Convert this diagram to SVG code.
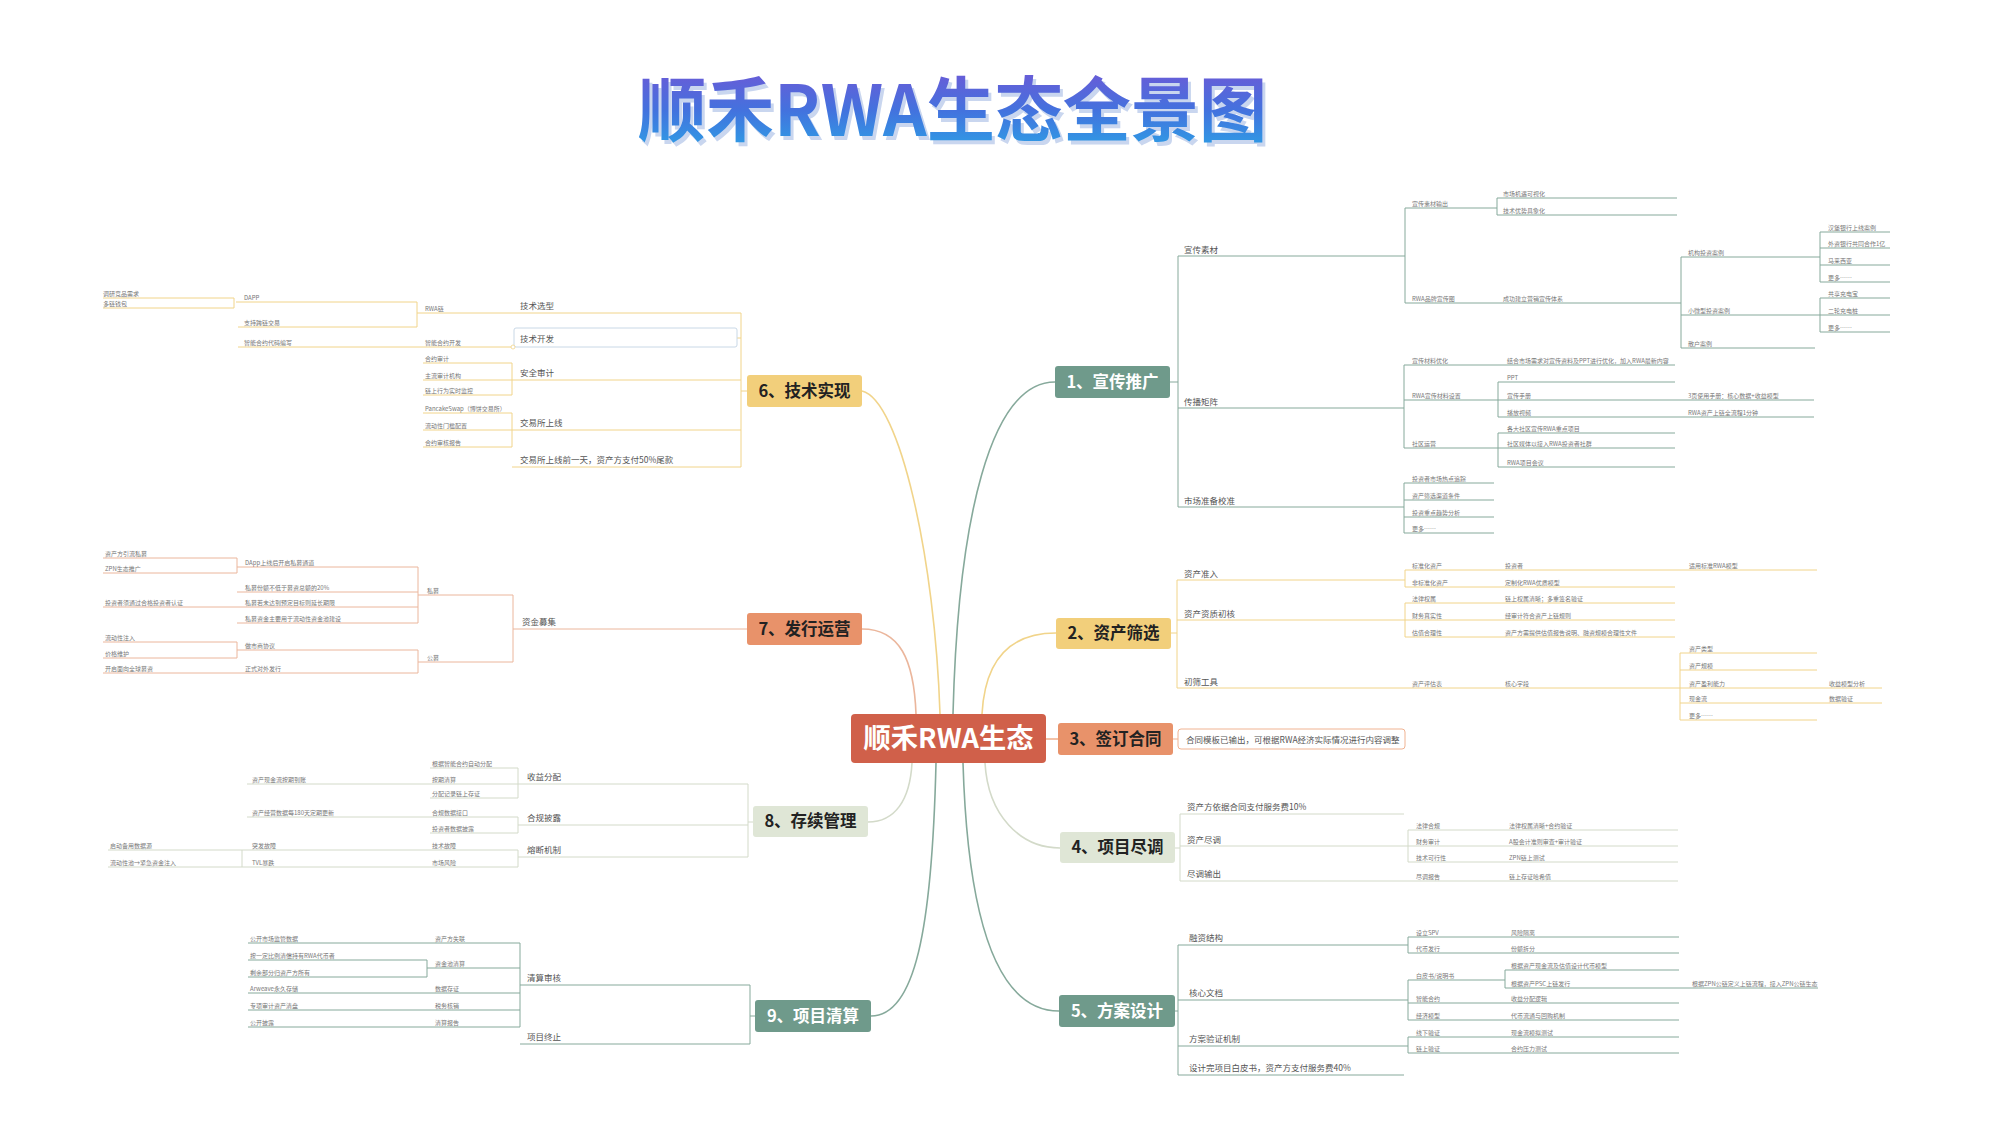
<svg xmlns="http://www.w3.org/2000/svg" width="2000" height="1125" viewBox="0 0 2000 1125">
<defs>
<linearGradient id="tg" x1="0" y1="0" x2="0" y2="1">
<stop offset="0" stop-color="#7a52d4"/>
<stop offset="0.55" stop-color="#4372de"/>
<stop offset="1" stop-color="#2aa6e6"/>
</linearGradient>
<style>
text{font-family:"Noto Sans CJK SC","Noto Sans",sans-serif}
.l1{font-size:8.5px;fill:#555}
.s{font-size:6px;fill:#777}
.nt{font-size:16.5px;font-weight:700;text-anchor:middle;fill:#222}
.nw{fill:#fff}
.c1,.c2,.c3,.c4,.c7{fill:none;stroke-width:1}
.c1{stroke:#86a99b}
.c2{stroke:#f1d48a}
.c3{stroke:#f0b392}
.c4{stroke:#d3dac9}
.c7{stroke:#ebb69c}
.cv{stroke-width:1.6}
.teal{fill:#6f9a8b}
.yel{fill:#f2cf7b}
.org{fill:#e8926a}
.lgt{fill:#dfe6d6}
</style>
</defs>
<rect width="2000" height="1125" fill="#fff"/>

<g id="title">
<text x="641" y="140" font-size="70" font-weight="700" fill="#c9d6ef" textLength="629" lengthAdjust="spacingAndGlyphs">顺禾RWA生态全景图</text>
<text x="638" y="136" font-size="70" font-weight="700" fill="url(#tg)" textLength="629" lengthAdjust="spacingAndGlyphs">顺禾RWA生态全景图</text>
</g>

<g id="connectors">
<path class="c1 cv" d="M953,714 C958,520 990,382 1055,382"/>
<path class="c2 cv" d="M940,714 C935,560 900,400 862,391"/>
<path class="c7 cv" d="M916,714 C914,660 900,629 862,629"/>
<path class="c2 cv" d="M982,714 C985,660 1010,633 1056,633"/>
<path class="c3 cv" d="M1046,739 H1058"/>
<path class="c4 cv" d="M912,763 C910,800 895,822 868,822"/>
<path class="c1 cv" d="M936,763 C932,930 915,1016 871,1016"/>
<path class="c1 cv" d="M963,763 C968,930 1000,1011 1059,1011"/>
<path class="c4 cv" d="M985,763 C988,815 1020,848 1060,848"/>

<path class="c1" d="M1170,382 H1178 M1178,256 V507 M1178,256 H1405 M1178,408 H1404 M1178,507 H1404
M1405,208 V303 M1405,208 H1497 M1497,198 V215 M1497,198 H1677 M1497,215 H1677
M1405,303 H1681 M1681,257 V348 M1681,257 H1820 M1681,315 H1820 M1681,348 H1815
M1820,232 V282 M1820,232 H1890 M1820,248 H1890 M1820,265 H1890 M1820,282 H1890
M1820,298 V332 M1820,298 H1890 M1820,315 H1890 M1820,332 H1890
M1404,365 V448 M1404,365 H1675
M1404,400 H1498 M1498,382 V417 M1498,382 H1675 M1498,400 H1814 M1498,417 H1814
M1404,448 H1498 M1498,433 V467 M1498,433 H1675 M1498,448 H1675 M1498,467 H1675
M1404,483 V533 M1404,483 H1494 M1404,500 H1494 M1404,517 H1494 M1404,533 H1494"/>

<path class="c2" d="M1171,633 H1177 M1177,580 V688 M1177,580 H1405 M1177,620 H1405 M1177,688 H1680
M1405,570 V587 M1405,570 H1817 M1405,587 H1675
M1405,603 V637 M1405,603 H1675 M1405,620 H1675 M1405,637 H1675
M1680,653 V720 M1680,653 H1817 M1680,670 H1817 M1680,688 H1882 M1680,703 H1882 M1680,720 H1817"/>

<path class="c3" d="M1173,739 H1178"/>
<rect class="c3" x="1178" y="729" width="227" height="20" rx="3"/>

<path class="c4" d="M1175,848 H1180 M1180,814 V881 M1180,814 H1404 M1180,846 H1408 M1180,881 H1678
M1408,830 V862 M1408,830 H1678 M1408,846 H1678 M1408,862 H1678"/>

<path class="c1" d="M1175,1011 H1178 M1178,945 V1075 M1178,945 H1408 M1178,1000 H1408 M1178,1046 H1408 M1178,1075 H1404
M1408,937 V953 M1408,937 H1679 M1408,953 H1679
M1408,980 V1020 M1408,980 H1505 M1505,970 V988 M1505,970 H1679 M1505,988 H1818 M1408,1003 H1679 M1408,1020 H1679
M1408,1037 V1053 M1408,1037 H1679 M1408,1053 H1679"/>

<path class="c2" d="M747,391 H741 M741,313 V467 M741,313 H417
M417,302 V327 M417,302 H236 M417,327 H238
M234,298 V308 M234,298 H103 M234,308 H103
M737,338 H741 M514,347 H238
M741,380 H512 M512,363 V395 M512,363 H423 M512,380 H423 M512,395 H423
M741,430 H512 M512,413 V447 M512,413 H423 M512,430 H423 M512,447 H423
M741,467 H512"/>
<rect x="514" y="328" width="223" height="19" rx="2" fill="#fff" stroke="#c9d8e6" stroke-width="1"/>
<circle cx="513" cy="347" r="2" fill="#fff" stroke="#f1d48a" stroke-width="0.8"/>

<path class="c7" d="M747,629 H513 M513,595 V662 M513,595 H418 M513,662 H418
M418,567 V623 M418,567 H237 M418,592 H237 M418,607 H103 M418,623 H237
M237,558 V573 M237,558 H103 M237,573 H103
M418,650 V673 M418,650 H237 M418,673 H103
M237,642 V658 M237,642 H103 M237,658 H103"/>

<path class="c4" d="M753,822 H748 M748,784 V857 M748,784 H247
M518,768 V798 M518,768 H430 M518,798 H430
M748,825 H518 M518,817 V833 M518,817 H247 M518,833 H430
M748,857 H518 M518,850 V867 M518,850 H108 M518,867 H108 M242,850 V867"/>

<path class="c1" d="M755,1016 H750 M750,985 V1044 M750,985 H520 M750,1044 H520
M520,943 V1027 M520,943 H248 M520,968 H427 M520,993 H248 M520,1010 H248 M520,1027 H248
M427,960 V977 M427,960 H248 M427,977 H248"/>
</g>

<g id="center">
<rect x="851" y="714" width="195" height="49" rx="4" fill="#d0604a"/>
<text x="948.5" y="748" font-size="27" font-weight="700" fill="#fff" text-anchor="middle" textLength="170" lengthAdjust="spacingAndGlyphs">顺禾RWA生态</text>
</g>

<g id="node1"><rect class="teal" x="1055" y="366" width="115" height="32" rx="3"/><text class="nt nw" x="1112.5" y="388">1、宣传推广</text></g>
<g id="node2"><rect class="yel" x="1056" y="618" width="115" height="31" rx="3"/><text class="nt" x="1113.5" y="639">2、资产筛选</text></g>
<g id="node3"><rect class="org" x="1058" y="723" width="115" height="32" rx="3"/><text class="nt" x="1115.5" y="745">3、签订合同</text></g>
<g id="node4"><rect class="lgt" x="1060" y="832" width="115" height="31" rx="3"/><text class="nt" x="1117.5" y="853">4、项目尽调</text></g>
<g id="node5"><rect class="teal" x="1059" y="995" width="116" height="32" rx="3"/><text class="nt nw" x="1117" y="1017">5、方案设计</text></g>
<g id="node6"><rect class="yel" x="747" y="375" width="115" height="32" rx="3"/><text class="nt" x="804.5" y="397">6、技术实现</text></g>
<g id="node7"><rect class="org" x="747" y="613" width="115" height="32" rx="3"/><text class="nt" x="804.5" y="635">7、发行运营</text></g>
<g id="node8"><rect class="lgt" x="753" y="806" width="115" height="31" rx="3"/><text class="nt" x="810.5" y="827">8、存续管理</text></g>
<g id="node9"><rect class="teal" x="755" y="1000" width="116" height="32" rx="3"/><text class="nt nw" x="813" y="1022">9、项目清算</text></g>

<g id="b1">
<g id="b1-1"><text class="l1" x="1184" y="253">宣传素材</text></g>
<g id="b1-2"><text class="l1" x="1184" y="405">传播矩阵</text></g>
<g id="b1-3"><text class="l1" x="1184" y="504">市场准备校准</text></g>
<g id="b1-4"><text class="s" x="1412" y="205.5">宣传素材输出</text></g>
<g id="b1-5"><text class="s" x="1503" y="195.5">市场机遇可视化</text></g>
<g id="b1-6"><text class="s" x="1503" y="212.5">技术优势具象化</text></g>
<g id="b1-7"><text class="s" x="1412" y="300.5">RWA品牌宣传图</text></g>
<g id="b1-8"><text class="s" x="1503" y="300.5">成功建立营销宣传体系</text></g>
<g id="b1-9"><text class="s" x="1688" y="254.5">机构投资案例</text></g>
<g id="b1-10"><text class="s" x="1828" y="229.5">汉堡银行上线案例</text></g>
<g id="b1-11"><text class="s" x="1828" y="245.5">外资银行共同合作1亿</text></g>
<g id="b1-12"><text class="s" x="1828" y="262.5">马来西亚</text></g>
<g id="b1-13"><text class="s" x="1828" y="279.5">更多……</text></g>
<g id="b1-14"><text class="s" x="1688" y="312.5">小微型投资案例</text></g>
<g id="b1-15"><text class="s" x="1828" y="295.5">共享充电宝</text></g>
<g id="b1-16"><text class="s" x="1828" y="312.5">二轮充电桩</text></g>
<g id="b1-17"><text class="s" x="1828" y="329.5">更多……</text></g>
<g id="b1-18"><text class="s" x="1688" y="345.5">散户案例</text></g>
<g id="b1-19"><text class="s" x="1412" y="362.5">宣传材料优化</text></g>
<g id="b1-20"><text class="s" x="1507" y="362.5">结合市场需求对宣传资料及PPT进行优化，加入RWA最新内容</text></g>
<g id="b1-21"><text class="s" x="1412" y="397.5">RWA宣传材料设置</text></g>
<g id="b1-22"><text class="s" x="1507" y="379.5">PPT</text></g>
<g id="b1-23"><text class="s" x="1507" y="397.5">宣传手册</text></g>
<g id="b1-24"><text class="s" x="1688" y="397.5">3页使用手册：核心数据+收益模型</text></g>
<g id="b1-25"><text class="s" x="1507" y="414.5">播放视频</text></g>
<g id="b1-26"><text class="s" x="1688" y="414.5">RWA资产上链全流程1分钟</text></g>
<g id="b1-27"><text class="s" x="1412" y="445.5">社区运营</text></g>
<g id="b1-28"><text class="s" x="1507" y="430.5">各大社区宣传RWA重点项目</text></g>
<g id="b1-29"><text class="s" x="1507" y="445.5">社区媒体以接入RWA投资者社群</text></g>
<g id="b1-30"><text class="s" x="1507" y="464.5">RWA项目会议</text></g>
<g id="b1-31"><text class="s" x="1412" y="480.5">投资者市场热点追踪</text></g>
<g id="b1-32"><text class="s" x="1412" y="497.5">资产筛选渠道条件</text></g>
<g id="b1-33"><text class="s" x="1412" y="514.5">投资重点趋势分析</text></g>
<g id="b1-34"><text class="s" x="1412" y="530.5">更多……</text></g>
</g>

<g id="b2">
<g id="b2-1"><text class="l1" x="1184" y="577">资产准入</text></g>
<g id="b2-2"><text class="l1" x="1184" y="617">资产资质初核</text></g>
<g id="b2-3"><text class="l1" x="1184" y="685">初筛工具</text></g>
<g id="b2-4"><text class="s" x="1412" y="567.5">标准化资产</text></g>
<g id="b2-5"><text class="s" x="1505" y="567.5">投资者</text></g>
<g id="b2-6"><text class="s" x="1689" y="567.5">适用标准RWA模型</text></g>
<g id="b2-7"><text class="s" x="1412" y="584.5">非标准化资产</text></g>
<g id="b2-8"><text class="s" x="1505" y="584.5">定制化RWA优质模型</text></g>
<g id="b2-9"><text class="s" x="1412" y="600.5">法律权属</text></g>
<g id="b2-10"><text class="s" x="1505" y="600.5">链上权属清晰；多重签名验证</text></g>
<g id="b2-11"><text class="s" x="1412" y="617.5">财务真实性</text></g>
<g id="b2-12"><text class="s" x="1505" y="617.5">经审计符合资产上链规则</text></g>
<g id="b2-13"><text class="s" x="1412" y="634.5">估值合理性</text></g>
<g id="b2-14"><text class="s" x="1505" y="634.5">资产方需提供估值报告说明、融资规模合理性文件</text></g>
<g id="b2-15"><text class="s" x="1412" y="685.5">资产评估表</text></g>
<g id="b2-16"><text class="s" x="1505" y="685.5">核心字段</text></g>
<g id="b2-17"><text class="s" x="1689" y="650.5">资产类型</text></g>
<g id="b2-18"><text class="s" x="1689" y="667.5">资产规模</text></g>
<g id="b2-19"><text class="s" x="1689" y="685.5">资产盈利能力</text></g>
<g id="b2-20"><text class="s" x="1829" y="685.5">收益模型分析</text></g>
<g id="b2-21"><text class="s" x="1689" y="700.5">现金流</text></g>
<g id="b2-22"><text class="s" x="1829" y="700.5">数据验证</text></g>
<g id="b2-23"><text class="s" x="1689" y="717.5">更多……</text></g>
</g>

<g id="b3">
<g id="b3-1"><text class="l1" x="1186" y="742.5">合同模板已输出，可根据RWA经济实际情况进行内容调整</text></g>
</g>

<g id="b4">
<g id="b4-1"><text class="l1" x="1187" y="810">资产方依据合同支付服务费10%</text></g>
<g id="b4-2"><text class="l1" x="1187" y="843">资产尽调</text></g>
<g id="b4-3"><text class="l1" x="1187" y="877">尽调输出</text></g>
<g id="b4-4"><text class="s" x="1416" y="827.5">法律合规</text></g>
<g id="b4-5"><text class="s" x="1509" y="827.5">法律权属清晰+合约验证</text></g>
<g id="b4-6"><text class="s" x="1416" y="843.5">财务审计</text></g>
<g id="b4-7"><text class="s" x="1509" y="843.5">A股会计准则审查+审计验证</text></g>
<g id="b4-8"><text class="s" x="1416" y="859.5">技术可行性</text></g>
<g id="b4-9"><text class="s" x="1509" y="859.5">ZPN链上测试</text></g>
<g id="b4-10"><text class="s" x="1416" y="878.5">尽调报告</text></g>
<g id="b4-11"><text class="s" x="1509" y="878.5">链上存证哈希值</text></g>
</g>

<g id="b5">
<g id="b5-1"><text class="l1" x="1189" y="941">融资结构</text></g>
<g id="b5-2"><text class="l1" x="1189" y="996">核心文档</text></g>
<g id="b5-3"><text class="l1" x="1189" y="1042">方案验证机制</text></g>
<g id="b5-4"><text class="l1" x="1189" y="1071">设计完项目白皮书，资产方支付服务费40%</text></g>
<g id="b5-5"><text class="s" x="1416" y="934.5">设立SPV</text></g>
<g id="b5-6"><text class="s" x="1511" y="934.5">风险隔离</text></g>
<g id="b5-7"><text class="s" x="1416" y="950.5">代币发行</text></g>
<g id="b5-8"><text class="s" x="1511" y="950.5">份额拆分</text></g>
<g id="b5-9"><text class="s" x="1416" y="977.5">白皮书/说明书</text></g>
<g id="b5-10"><text class="s" x="1511" y="967.5">根据资产现金流及估值设计代币模型</text></g>
<g id="b5-11"><text class="s" x="1511" y="985.5">根据资产PSC上链发行</text></g>
<g id="b5-12"><text class="s" x="1692" y="985.5">根据ZPN公链定义上链流程，接入ZPN公链生态</text></g>
<g id="b5-13"><text class="s" x="1416" y="1000.5">智能合约</text></g>
<g id="b5-14"><text class="s" x="1511" y="1000.5">收益分配逻辑</text></g>
<g id="b5-15"><text class="s" x="1416" y="1017.5">经济模型</text></g>
<g id="b5-16"><text class="s" x="1511" y="1017.5">代币流通与回购机制</text></g>
<g id="b5-17"><text class="s" x="1416" y="1034.5">线下验证</text></g>
<g id="b5-18"><text class="s" x="1511" y="1034.5">现金流模拟测试</text></g>
<g id="b5-19"><text class="s" x="1416" y="1050.5">链上验证</text></g>
<g id="b5-20"><text class="s" x="1511" y="1050.5">合约压力测试</text></g>
</g>

<g id="b6">
<g id="b6-1"><text class="l1" x="520" y="309">技术选型</text></g>
<g id="b6-2"><text class="l1" x="520" y="342">技术开发</text></g>
<g id="b6-3"><text class="l1" x="520" y="376">安全审计</text></g>
<g id="b6-4"><text class="l1" x="520" y="426">交易所上线</text></g>
<g id="b6-5"><text class="l1" x="520" y="463">交易所上线前一天，资产方支付50%尾款</text></g>
<g id="b6-6"><text class="s" x="425" y="310.5">RWA链</text></g>
<g id="b6-7"><text class="s" x="244" y="299.5">DAPP</text></g>
<g id="b6-8"><text class="s" x="103" y="295.5">调研竞品需求</text></g>
<g id="b6-9"><text class="s" x="103" y="305.5">多链钱包</text></g>
<g id="b6-10"><text class="s" x="244" y="324.5">支持跨链交易</text></g>
<g id="b6-11"><text class="s" x="425" y="344.5">智能合约开发</text></g>
<g id="b6-12"><text class="s" x="244" y="344.5">智能合约代码编写</text></g>
<g id="b6-13"><text class="s" x="425" y="360.5">合约审计</text></g>
<g id="b6-14"><text class="s" x="425" y="377.5">主流审计机构</text></g>
<g id="b6-15"><text class="s" x="425" y="392.5">链上行为实时监控</text></g>
<g id="b6-16"><text class="s" x="425" y="410.5">PancakeSwap（博饼交易所）</text></g>
<g id="b6-17"><text class="s" x="425" y="427.5">流动性门槛配置</text></g>
<g id="b6-18"><text class="s" x="425" y="444.5">合约审核报告</text></g>
</g>

<g id="b7">
<g id="b7-1"><text class="l1" x="522" y="625">资金募集</text></g>
<g id="b7-2"><text class="s" x="427" y="592.5">私募</text></g>
<g id="b7-3"><text class="s" x="427" y="659.5">公募</text></g>
<g id="b7-4"><text class="s" x="245" y="564.5">DApp上线后开启私募通道</text></g>
<g id="b7-5"><text class="s" x="245" y="589.5">私募份额不低于募资总额的20%</text></g>
<g id="b7-6"><text class="s" x="245" y="604.5">私募若未达到预定目标则延长期限</text></g>
<g id="b7-7"><text class="s" x="105" y="604.5">投资者须通过合格投资者认证</text></g>
<g id="b7-8"><text class="s" x="245" y="620.5">私募资金主要用于流动性资金池建设</text></g>
<g id="b7-9"><text class="s" x="105" y="555.5">资产方引流私募</text></g>
<g id="b7-10"><text class="s" x="105" y="570.5">ZPN生态推广</text></g>
<g id="b7-11"><text class="s" x="245" y="647.5">做市商协议</text></g>
<g id="b7-12"><text class="s" x="105" y="639.5">流动性注入</text></g>
<g id="b7-13"><text class="s" x="105" y="655.5">价格维护</text></g>
<g id="b7-14"><text class="s" x="245" y="670.5">正式对外发行</text></g>
<g id="b7-15"><text class="s" x="105" y="670.5">开启面向全球募资</text></g>
</g>

<g id="b8">
<g id="b8-1"><text class="l1" x="527" y="780">收益分配</text></g>
<g id="b8-2"><text class="l1" x="527" y="821">合规披露</text></g>
<g id="b8-3"><text class="l1" x="527" y="853">熔断机制</text></g>
<g id="b8-4"><text class="s" x="432" y="765.5">根据智能合约自动分配</text></g>
<g id="b8-5"><text class="s" x="432" y="781.5">按期清算</text></g>
<g id="b8-6"><text class="s" x="252" y="781.5">资产现金流按期到账</text></g>
<g id="b8-7"><text class="s" x="432" y="795.5">分配记录链上存证</text></g>
<g id="b8-8"><text class="s" x="432" y="814.5">合规数据接口</text></g>
<g id="b8-9"><text class="s" x="252" y="814.5">资产经营数据每180天定期更新</text></g>
<g id="b8-10"><text class="s" x="432" y="830.5">投资者数据披露</text></g>
<g id="b8-11"><text class="s" x="432" y="847.5">技术故障</text></g>
<g id="b8-12"><text class="s" x="252" y="847.5">突发故障</text></g>
<g id="b8-13"><text class="s" x="110" y="847.5">启动备用数据源</text></g>
<g id="b8-14"><text class="s" x="432" y="864.5">市场风险</text></g>
<g id="b8-15"><text class="s" x="252" y="864.5">TVL暴跌</text></g>
<g id="b8-16"><text class="s" x="110" y="864.5">流动性池→紧急资金注入</text></g>
</g>

<g id="b9">
<g id="b9-1"><text class="l1" x="527" y="981">清算审核</text></g>
<g id="b9-2"><text class="l1" x="527" y="1040">项目终止</text></g>
<g id="b9-3"><text class="s" x="435" y="940.5">资产方失联</text></g>
<g id="b9-4"><text class="s" x="250" y="940.5">公开市场监管数据</text></g>
<g id="b9-5"><text class="s" x="435" y="965.5">资金池清算</text></g>
<g id="b9-6"><text class="s" x="250" y="957.5">按一定比例清偿持有RWA代币者</text></g>
<g id="b9-7"><text class="s" x="250" y="974.5">剩余部分归资产方所有</text></g>
<g id="b9-8"><text class="s" x="435" y="990.5">数据存证</text></g>
<g id="b9-9"><text class="s" x="250" y="990.5">Arweave永久存储</text></g>
<g id="b9-10"><text class="s" x="435" y="1007.5">税务核销</text></g>
<g id="b9-11"><text class="s" x="250" y="1007.5">专项审计资产清盘</text></g>
<g id="b9-12"><text class="s" x="435" y="1024.5">清算报告</text></g>
<g id="b9-13"><text class="s" x="250" y="1024.5">公开披露</text></g>
</g>
</svg>
